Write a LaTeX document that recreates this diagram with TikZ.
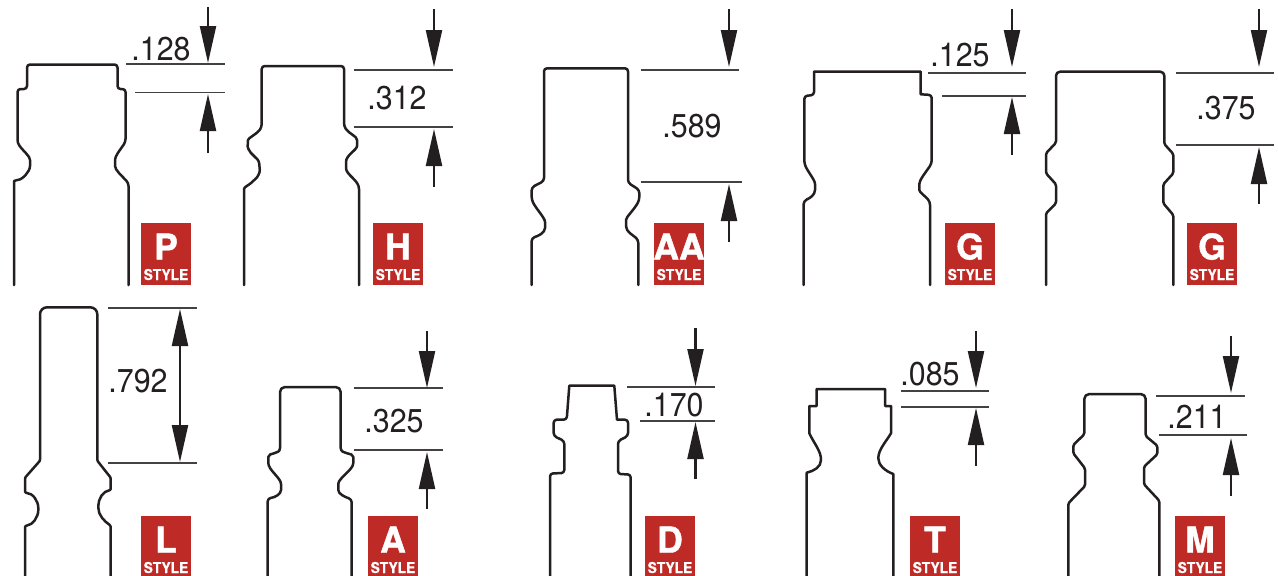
\documentclass[tikz,border=0pt]{standalone}
\usepackage{fontspec}
\setmainfont{TeX Gyre Heros}
\newfontfamily\dimfont[FakeStretch=0.92]{TeX Gyre Heros}
\newfontfamily\wordfont[FakeStretch=0.92,BoldFeatures={FakeBold=0.6}]{TeX Gyre Heros}
\newfontfamily\letterfont[BoldFeatures={FakeBold=1.2}]{TeX Gyre Heros}
\usetikzlibrary{arrows.meta}

\definecolor{inkblack}{HTML}{231F20}
\definecolor{badgered}{HTML}{BE2A26}

\tikzset{
  profile/.style={draw=inkblack, line width=2.5pt, rounded corners=3pt, line cap=round, line join=round},
  dimline/.style={draw=inkblack!85, line width=1.3pt},
  dimarrow/.style={draw=inkblack, line width=2.2pt, -{Triangle[length=37pt,width=16pt]}},
  dimbothway/.style={draw=inkblack, line width=2.2pt, {Triangle[length=37pt,width=16pt]}-{Triangle[length=37pt,width=16pt]}},
  dimvalue/.style={anchor=base, inner sep=0pt, text=inkblack, font=\dimfont\fontsize{33}{33}\selectfont},
  badge/.style={anchor=north west, fill=badgered, inner sep=0pt, minimum width=50pt},
  badgeletter/.style={anchor=base, inner sep=0pt, text=white, font=\letterfont\fontsize{35.5}{36}\selectfont\bfseries},
  badgeword/.style={anchor=base, inner sep=0pt, text=white, font=\wordfont\fontsize{15}{15}\selectfont\bfseries},
}

\begin{document}
\begin{tikzpicture}[x=1pt,y=-1pt]
  \useasboundingbox (0,0) rectangle (1278,576);

  % --- top row outlines ------------------------------------------
  % P
  \draw[profile] (14,285) -- (14,184) .. controls (14,181.5) and (15.5,180.5) .. (17,180)
     .. controls (22,179) and (30,172) .. (30,163) .. controls (30,156) and (24,152) .. (17.5,143)
     -- (17.5,89) -- (27,89) -- (27,64.5) -- (117.5,64.5) -- (117.5,89) -- (125.5,89) -- (125.5,142)
     .. controls (120,150) and (115,156) .. (115,163) .. controls (115,170) and (122,176) .. (128.5,183)
     -- (128.5,285);
  % H
  \draw[profile] (244,285) -- (244,192) .. controls (244,187) and (249,185) .. (253,181)
     .. controls (258,177) and (260,172) .. (259.5,167) .. controls (259,160) and (256,158) .. (253,155)
     .. controls (249,151) and (247.5,147) .. (248,143) .. controls (248,138) and (257,134) .. (261.7,127)
     -- (261.7,66) -- (344,66) -- (344,126) .. controls (349,134) and (357,136) .. (357,143)
     .. controls (357,150) and (346,155) .. (346,165) .. controls (346,175) and (359,180) .. (359,192)
     -- (359,285);
  % AA
  \draw[profile] (531.7,285) -- (531.7,238) .. controls (538,236) and (545,233) .. (545,225)
     .. controls (545,218) and (537,210) .. (531.7,200) -- (531.7,187.3) -- (544,181)
     -- (544,68.3) -- (628,68.3) -- (628,182.7) -- (639.3,190) -- (639.3,200)
     .. controls (634,210) and (626,217) .. (626,223) .. controls (626,232) and (633,235) .. (638.3,240)
     -- (638.3,285);
  % G
  \draw[profile] (803.7,285) -- (803.7,201) .. controls (810,198) and (815,195) .. (815,187)
     .. controls (815,180) and (808,172) .. (804.3,163.3) -- (804.3,96) -- (814,95)
     [sharp corners] -- (814,71.7) -- (920.7,71.7) -- (920.7,94.3) [rounded corners=3pt] -- (931.7,95)
     -- (931.7,163.3) .. controls (926,172) and (919.3,180) .. (919.3,187) .. controls (919.3,192) and (925,196) .. (930,201.7)
     -- (930,285);
  % G, second
  \draw[profile,rounded corners=1.5pt] (1046,285) -- (1046,213.3) -- (1056,203.3) -- (1056,184.3)
     -- (1046,173.3) -- (1046,153.3) -- (1056,142.7)
     [rounded corners=4pt] -- (1056,71.7) -- (1164.3,71.7) [rounded corners=1.5pt] -- (1164.3,144)
     -- (1173.3,154) -- (1173.3,173.3) -- (1163.3,184.3) -- (1163.3,203.3) -- (1173.3,215) -- (1173.3,285);

  % --- bottom row outlines ---------------------------------------
  % L
  \draw[profile,rounded corners=1pt] (25,576) -- (25,526) .. controls (33,525) and (38.3,517) .. (38.3,509)
     .. controls (38.3,501) and (33,493) .. (25,492.7) -- (25,477.7) -- (40,460.7)
     [rounded corners=7pt] -- (40,307.3) -- (97.3,307.3) [rounded corners=1pt] -- (97.3,460.7) -- (110.7,477.7)
     -- (110.7,490) .. controls (103,491) and (98.3,499) .. (98.3,506.7) .. controls (98.3,515) and (104,521) .. (110.7,525.7)
     -- (110.7,576);
  % A
  \draw[profile] (267.7,576) -- (267.7,498.3) .. controls (275,497.5) and (281,494) .. (281,487)
     .. controls (281,478) and (268.3,470) .. (268.3,460) .. controls (268.3,452) and (280,455) .. (280,445)
     [rounded corners=5pt] -- (280,387) -- (340.7,387) [rounded corners=3pt] -- (340.7,445)
     .. controls (340.7,455) and (353.3,452) .. (353.3,460) .. controls (353.3,470) and (338.3,478) .. (338.3,487)
     .. controls (338.3,494) and (345,497) .. (351.7,499.3) -- (351.7,576);
  % D
  \draw[profile] (550,576) -- (550,473.5) -- (564.3,473) -- (564.3,441) -- (553.7,436)
     -- (553.7,419.7) -- (566.7,419.7) [sharp corners] -- (569.3,385.7) -- (614.3,385.7) -- (617,419.7)
     [rounded corners=3pt] -- (628,419.7) -- (628,436) -- (618,441) -- (618,474) -- (630.7,474.5) -- (630.7,576);
  % T
  \draw[profile,sharp corners] (806.7,576) -- (806.7,472.7) .. controls (814,471) and (821,467) .. (821,460)
     .. controls (821,451) and (815,445) .. (809.3,433.3) -- (809.3,406) -- (816.7,406) -- (816.7,389)
     -- (885,389) -- (885,406) -- (891,406) -- (891,433.3) .. controls (885,443) and (878.3,450) .. (878.3,458.3)
     .. controls (878.3,465) and (885,471) .. (893.3,474) -- (893.3,576);
  % M
  \draw[profile,rounded corners=1.5pt] (1068.3,576) -- (1068.3,503.3) -- (1085,486) -- (1085,468.3)
     -- (1073.3,453.3) -- (1073.3,445) -- (1084.3,434.3)
     [rounded corners=5pt] -- (1084.3,394) -- (1145.7,394) [rounded corners=1.5pt] -- (1145.7,436)
     -- (1157.3,445.7) -- (1157.3,454.3) -- (1144,466.7) -- (1144,484.3) -- (1159.3,500.7) -- (1159.3,576);

  % --- dimension lines, arrows and values ------------------------
  \foreach \nm/\xa/\xb/\ya/\xc/\xd/\yb/\ax/\ta/\ha/\hb/\tb/\val/\vx/\vy in {
      p/126/225/64/135/225/92.5/208/7/63/94/153/.128/161/60,
      h/354/453/70/354/453/127/434/9/67/129/187/.312/397/109,
      aa/641/739/70/641/742/182/729/9/67/184/242/.589/692/137,
      g/928/1026/73/942/1026/96/1012/9/67/97/155/.125/960/66,
      gg/1176/1274/73/1176/1274/145/1259/9/67/147/204/.375/1226/119,
      a/354/443/388/354/443/450/427/331/388/452/509/.325/394/432,
      d/627/715/387/640/715/421/695.5/328/386/422/479/.170/674/416,
      t/901/989/391/901/989/407/976/331/388/408/466/.085/930/385,
      m/1156/1245/396/1159/1247/435/1231/336/393/438/496/.211/1197/428}
  {
    \coordinate (\nm-topl) at (\xa,\ya);
    \coordinate (\nm-topr) at (\xb,\ya);
    \coordinate (\nm-lowl) at (\xc,\yb);
    \coordinate (\nm-lowr) at (\xd,\yb);
    \coordinate (\nm-tail1) at (\ax,\ta);
    \coordinate (\nm-tip1) at (\ax,\ha);
    \coordinate (\nm-tip2) at (\ax,\hb);
    \coordinate (\nm-tail2) at (\ax,\tb);
    \draw[dimline] (\nm-topl) -- (\nm-topr);
    \draw[dimline] (\nm-lowl) -- (\nm-lowr);
    \draw[dimarrow] (\nm-tail1) -- (\nm-tip1);
    \draw[dimarrow] (\nm-tail2) -- (\nm-tip2);
    \node[dimvalue] (\nm-val) at (\vx,\vy) {\val};
  }

  % L has its arrow between the two lines
  \coordinate (l-topl) at (108,308);
  \coordinate (l-topr) at (197,308);
  \coordinate (l-lowl) at (108,463);
  \coordinate (l-lowr) at (197,463);
  \coordinate (l-tip1) at (180,309);
  \coordinate (l-tip2) at (180,462);
  \draw[dimline] (l-topl) -- (l-topr);
  \draw[dimline] (l-lowl) -- (l-lowr);
  \draw[dimbothway] (l-tip1) -- (l-tip2);
  \node[dimvalue] (l-val) at (138,392) {.792};

  % --- style badges ----------------------------------------------
  \foreach \nm/\ltr/\bx/\by/\bh in {p/P/141/223/62, h/H/373/223/62, aa/AA/654/223/62,
      g/G/945/223/62, gg/G/1187/223/62, l/L/141/516/60, a/A/368/516/60,
      d/D/645/516/60, t/T/910/516/60, m/M/1175/516/60}
  {
    \node[badge,minimum height=\bh pt] (\nm-badge) at (\bx,\by) {};
    \node[badgeletter] (\nm-letter) at (\bx+25,\by+36.5) {\ltr};
    \node[badgeword] (\nm-word) at (\bx+25,\by+57) {STYLE};
  }

\end{tikzpicture}
\end{document}
